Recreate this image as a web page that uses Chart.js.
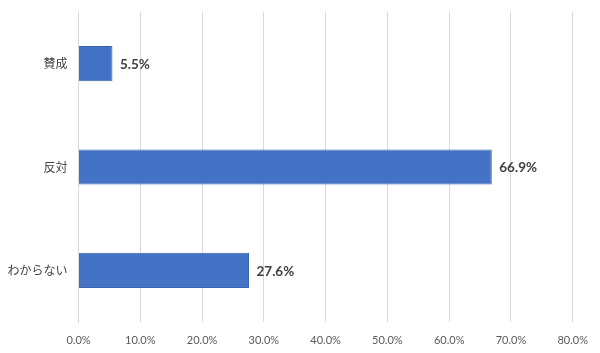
<!DOCTYPE html>
<html>
<head>
<meta charset="utf-8">
<script src="https://cdn.jsdelivr.net/npm/chart.js@4"></script>
<style>
  html, body { margin: 0; padding: 0; background: #fff; }
  #wrap { width: 600px; height: 353px; }
</style>
</head>
<body>
<div id="wrap"><canvas id="chart"></canvas></div>
<script>
const categories = ['賛成', '反対', 'わからない'];
const shares = [5.5, 66.9, 27.6];
const axisMax = 80;
const axisStep = 10;

// draws the value next to the end of each bar
const barValueLabels = {
	id: 'barValueLabels',
	afterDatasetsDraw(chart) {
		const ctx = chart.ctx;
		const meta = chart.getDatasetMeta(0);
		ctx.save();
		ctx.font = 'bold 13.5px Lato, "Noto Sans", sans-serif';
		ctx.fillStyle = '#404040';
		ctx.textAlign = 'left';
		ctx.textBaseline = 'middle';
		meta.data.forEach((bar, i) => {
			ctx.fillText(shares[i].toFixed(1) + '%', bar.x + 7.5, bar.y + 1);
		});
		ctx.restore();
	}
};

new Chart(document.getElementById('chart'), {
	type: 'bar',
	data: {
		labels: categories,
		datasets: [{
			data: shares,
			backgroundColor: '#4472C4',
			borderColor: '#3A64AF',
			borderWidth: 1,
			barPercentage: 0.68,
			categoryPercentage: 0.5
		}]
	},
	options: {
		indexAxis: 'y',
		responsive: true,
		maintainAspectRatio: false,
		animation: false,
		layout: { padding: { top: 12, right: 27, left: 0, bottom: 0 } },
		plugins: {
			legend: { display: false },
			tooltip: { enabled: false }
		},
		scales: {
			x: {
				min: 0,
				max: axisMax,
				ticks: {
					stepSize: axisStep,
					padding: 12,
					color: '#595959',
					font: { size: 11, family: 'Lato, "Noto Sans", sans-serif' },
					callback: v => v.toFixed(1) + '%'
				},
				grid: { color: '#d9d9d9', drawTicks: false },
				border: { display: false },
				afterFit(scale) { scale.height = 31; scale.paddingTop = 0; }
			},
			y: {
				ticks: {
					padding: 11,
					color: '#404040',
					font: { size: 12, family: '"Noto Sans CJK JP", sans-serif' }
				},
				grid: { display: false, drawTicks: false },
				border: { display: true, color: '#d9d9d9' },
				// keep the plot box where the original has it
				afterFit(scale) { scale.width = 78.5; scale.paddingTop = 0; scale.paddingBottom = 0; }
			}
		}
	},
	plugins: [barValueLabels]
});
</script>
</body>
</html>
